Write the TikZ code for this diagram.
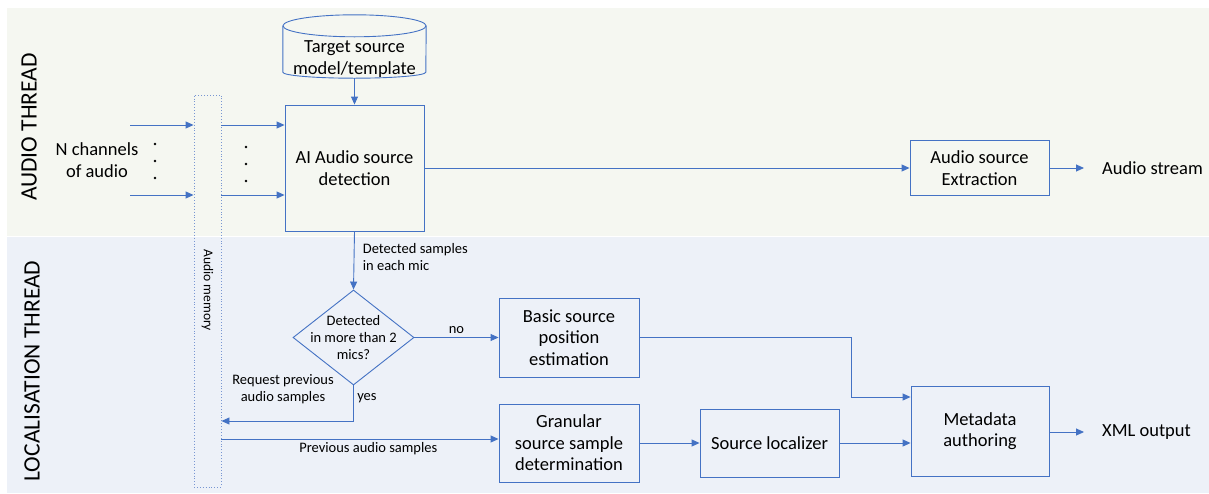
\documentclass[tikz,border=0pt]{standalone}
\usepackage{fontspec}
\setmainfont{Carlito}
\usetikzlibrary{shapes.geometric,arrows.meta}
\definecolor{linkblue}{RGB}{68,114,196}
\definecolor{membblue}{RGB}{120,150,210}
\definecolor{audiobg}{RGB}{245,247,241}
\definecolor{locbg}{RGB}{237,241,248}
\tikzset{
  block/.style={draw=linkblue, line width=0.9pt, align=center, inner sep=2pt,
    font=\fontsize{18.5}{21.5}\selectfont},
  decision/.style={diamond, draw=linkblue, line width=0.9pt, align=center, inner sep=-9pt,
    shape aspect=1.27, font=\fontsize{14.5}{17}\selectfont},
  tag/.style={align=center, font=\fontsize{14.5}{17}\selectfont},
  outtext/.style={anchor=west, inner xsep=18pt, font=\fontsize{18.5}{21.5}\selectfont},
  thread/.style={rotate=90, font=\fontsize{23.5}{26}\selectfont},
  link/.style={draw=linkblue, line width=0.9pt, -{Triangle[length=8pt,width=7pt]}},
}
\begin{document}
\begin{tikzpicture}[x=1pt, y=-1pt]
  \useasboundingbox (0,0) rectangle (1209,493);
  % thread bands
  \fill[audiobg] (7,8) rectangle (1209,236);
  \fill[locbg] (7,237) rectangle (1209,493);
  \node[thread] (audiothr) at (29,127) {AUDIO THREAD};
  \node[thread] (locthr) at (32,371) {LOCALISATION THREAD};

  % audio thread
  \node[minimum width=143, minimum height=63, inner sep=0pt] (tmpl) at (354.5,46.5) {};
  \node[align=center, font=\fontsize{18.5}{21.5}\selectfont] (tmpltext) at (354.5,59) {Target source\\model/template};
  \draw[linkblue, line width=0.9pt] ([yshift=-11pt]tmpl.north) ellipse [x radius=71.5pt, y radius=11pt];
  \draw[linkblue, line width=0.9pt] ([yshift=-11pt]tmpl.north west) -- ([yshift=6pt]tmpl.south west)
    arc[start angle=180, end angle=360, x radius=71.5pt, y radius=6pt] -- ([yshift=-11pt]tmpl.north east);
  \node[block, minimum width=139, minimum height=126] (det) at (354.5,168) {AI Audio source\\detection};
  \node[draw=membblue, dotted, line width=0.9pt, minimum width=27, minimum height=392] (mem) at (207.5,291) {};
  \node[rotate=-90, anchor=west, font=\fontsize{13.5}{15}\selectfont] (memtext) at (207.5,246) {Audio memory};
  \node[block, minimum width=139, minimum height=55] (extr) at (979.5,168) {Audio source\\Extraction};
  \node[outtext] (stream) at (1084,168) {Audio stream};
  \node[align=center, font=\fontsize{18.5}{21.5}\selectfont] (nch) at (97,160) {N channels\\of audio};
  \coordinate (in1) at (130,125);
  \coordinate (in2) at (130,195);

  \draw[link] (in1) -- (in1 -| mem.west);
  \draw[link] (in2) -- (in2 -| mem.west);
  \draw[link] (mem.east |- in1) -- (det.west |- in1);
  \draw[link] (mem.east |- in2) -- (det.west |- in2);
  \foreach \y in {144,161,178} \fill (155,\y) circle (1.3);
  \foreach \y in {147,164,181} \fill (246,\y) circle (1.3);
  \draw[link] (tmpl.south) -- (det.north);
  \draw[link] (det.east) -- (extr.west);
  \draw[link] (extr.east) -- (stream.west);

  % localisation thread
  \node[decision, minimum width=121, minimum height=95] (dec) at (353.5,337.5) {Detected\\in more than 2\\mics?};
  \node[block, minimum width=140, minimum height=79] (basic) at (569,337.5) {Basic source\\position\\estimation};
  \node[block, minimum width=140, minimum height=78] (gran) at (569,443) {Granular\\source sample\\determination};
  \node[block, minimum width=139, minimum height=68] (loc) at (769.5,443) {Source localizer};
  \node[block, minimum width=138, minimum height=90] (meta) at (980,431) {Metadata\\authoring};
  \node[outtext] (xml) at (1084,432) {XML output};

  \draw[link] (det.south) -- (dec.north)
    node[tag, pos=0.44, anchor=west, align=left, xshift=5] {Detected samples\\in each mic};
  \draw[link] (dec.east) -- (basic.west) node[tag, midway, above] {no};
  \draw[link] (dec.south) |- (mem.east |- 0,421) node[tag, pos=0.18, right] {yes};
  \node[tag] (req) at (283,389) {Request previous\\audio samples};
  \draw[link] (mem.east |- 0,439) -- (gran.west |- 0,439)
    node[tag, pos=0.53, below] {Previous audio samples};
  \draw[link] (gran.east) -- (loc.west);
  \draw[link] (loc.east) -- (meta.west |- loc.east);
  \draw[link] (basic.east) -- (basic.east -| 851,0) |- (meta.west |- 0,397);
  \draw[link] (meta.east |- xml.west) -- (xml.west);
\end{tikzpicture}
\end{document}
